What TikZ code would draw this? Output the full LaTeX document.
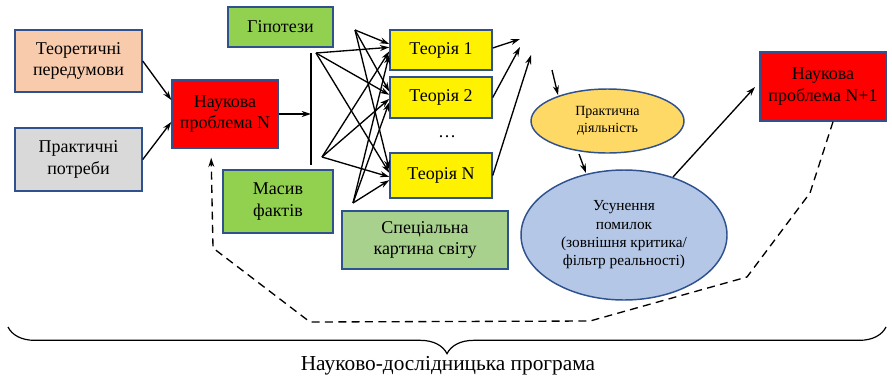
\documentclass[tikz,border=0pt]{standalone}
\usepackage{fontspec}
\setmainfont{Liberation Serif}
\usetikzlibrary{arrows.meta,shapes.geometric,decorations.pathreplacing}

\definecolor{frame}{HTML}{2F528F}
\definecolor{peach}{HTML}{F8CBAD}
\definecolor{greyfill}{HTML}{D9D9D9}
\definecolor{grass}{HTML}{92D050}
\definecolor{sage}{HTML}{A9D18E}
\definecolor{gold}{HTML}{FFD966}
\definecolor{sky}{HTML}{B4C7E7}

\begin{document}
\begin{tikzpicture}[>={Stealth[length=7pt,width=4.5pt]}, x=0.75pt, y=-0.75pt,
    box/.style={draw=frame, line width=1.1pt, align=center, inner sep=0pt,
      font=\fontsize{13.5}{16.3}\selectfont},
    oval/.style={ellipse, draw=frame, line width=1.1pt, align=center, inner sep=0pt},
    link/.style={->, line width=1pt}]

    \useasboundingbox (0,0) rectangle (892,379);

    % left part
    \node[box, fill=peach, minimum width=95.25pt, minimum height=46.5pt] (teor) at (78.5,61) {Теоретичні\\передумови};
    \node[box, fill=greyfill, minimum width=95.25pt, minimum height=47.25pt] (prakt) at (78.5,159.5) {Практичні\\потреби};
    \node[box, fill=red, minimum width=79.5pt, minimum height=51pt] (prob) at (225,114) {Наукова\\проблема N};

    \draw[link] (teor.east) -- ([yshift=10.5pt]prob.west);
    \draw[link] (prakt.east) -- ([yshift=-6pt]prob.west);

    \node[box, fill=grass, minimum width=78.75pt, minimum height=30pt] (hyp) at (280.5,27) {Гіпотези};
    \node[box, fill=grass, minimum width=82.5pt, minimum height=47.25pt] (facts) at (278,201.5) {Масив\\фактів};
    \node[box, fill=sage, minimum width=124.5pt, minimum height=43.5pt] (spec) at (425,240) {Спеціальна\\картина світу};

    \coordinate (bartop) at (311,53);
    \coordinate (barbot) at (311,165);
    \draw[line width=1pt] (bartop) -- (barbot);
    \draw[link] (prob.east) -- (prob.east -| bartop);

    % theories
    \node[box, fill=yellow, minimum width=76.5pt, minimum height=30pt] (t1) at (441,50) {Теорія 1};
    \node[box, fill=yellow, minimum width=76.5pt, minimum height=30.75pt] (t2) at (441,97.5) {Теорія 2};
    \node[box, fill=yellow, minimum width=76.5pt, minimum height=33.75pt] (tn) at (441,175.5) {Теорія N};
    \node[font=\fontsize{13.5}{16}\selectfont] (dots) at (447,137) {\dots};

    \coordinate (h) at (355,30);
    \coordinate (b1) at (316,53);
    \coordinate (b2) at (322,157);
    \coordinate (f) at (353,203);

    \foreach \s/\d in {h/4.5pt,b1/2pt,b2/-1pt,f/-3.5pt}
      \foreach \t in {t1,t2,tn}
        \draw[link] (\s) -- ([yshift=\d]\t.west);

    \coordinate (e1) at (520,39);
    \coordinate (e2) at (520,47);
    \coordinate (en) at (531,55);
    \draw[link] ([yshift=1.5pt]t1.east) -- (e1);
    \draw[link] (t2.east) -- (e2);
    \draw[link] (tn.east) -- (en);

    % right part
    \node[oval, fill=gold, minimum width=114.75pt, minimum height=48pt,
      font=\fontsize{10.5}{12.5}\selectfont] (prac) at (607.5,121) {Практична\\діяльність};
    \node[oval, fill=sky, minimum width=154.5pt, minimum height=97.5pt,
      font=\fontsize{11.5}{13.7}\selectfont] (err) at (624,235) {Усунення\\помилок\\(зовнішня критика/\\фільтр реальності)};
    \node[box, fill=red, minimum width=94.5pt, minimum height=51.75pt] (next) at (823,86.5) {Наукова\\проблема N+1};

    \coordinate (p1) at (552,70);
    \coordinate (p2) at (558,95);
    \coordinate (p3) at (579,154);
    \coordinate (p4) at (586,173);
    \coordinate (q1) at (673,177);
    \coordinate (q2) at (755,87);
    \draw[link] (p1) -- (p2);
    \draw[link] (p3) -- (p4);
    \draw[link] (q1) -- (q2);

    % feedback loop
    \coordinate (d1) at (810,193);
    \coordinate (d2) at (747,277);
    \coordinate (d3) at (590,321);
    \coordinate (d4) at (310,322);
    \coordinate (d5) at (213,248);
    \draw[->, line width=1pt, dash pattern=on 6pt off 4pt, shorten >=6.75pt]
      ([xshift=7.5pt]next.south) -- (d1) -- (d2) -- (d3) -- (d4) -- (d5)
      -- ([xshift=-10.5pt]prob.south);

    % brace
    \coordinate (bl) at (8,327);
    \coordinate (br) at (886,327);
    \draw[line width=0.9pt, decorate, decoration={brace, mirror, amplitude=20pt}] (bl) -- (br);
    \node[font=\fontsize{16}{18}\selectfont] (prog) at (448,366) {Науково-дослідницька програма};

\end{tikzpicture}
\end{document}
